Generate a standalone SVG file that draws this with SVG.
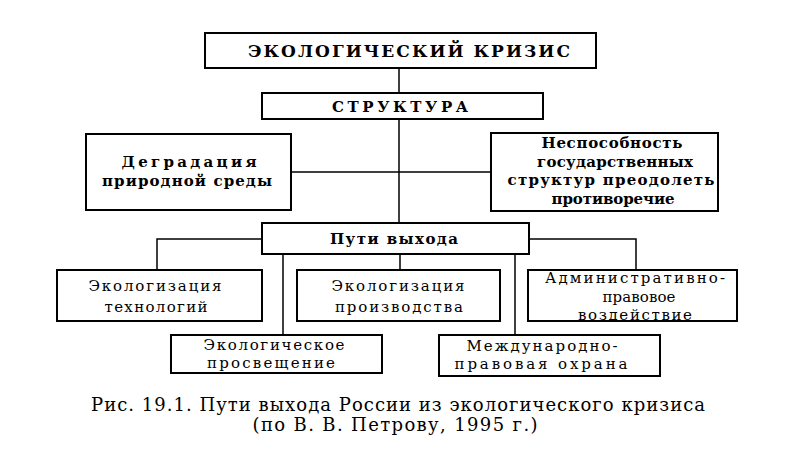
<svg xmlns="http://www.w3.org/2000/svg" width="800" height="450" viewBox="0 0 800 450">
<style>
.box{fill:#fff;stroke:#000;stroke-width:2}
.ln{fill:none;stroke:#000;stroke-width:1.5}
text{font-family:"DejaVu Serif","Liberation Serif",serif;fill:#000;text-anchor:middle}
.b{font-weight:bold;font-size:15px}
.r{font-size:15px}
.cap{font-size:18px}
</style>
<rect width="800" height="450" fill="#fff"/>
<g id="connectors">
<path class="ln" d="M399 68V93M399 119V223M291 172H491"/>
<path class="ln" d="M262 239H157V270M529 239H636V270M283 254V335M400 254V270M515 254V335"/>
</g>
<g id="crisis"><rect class="box" x="205" y="33" width="391" height="35"/><text x="409" y="57" font-weight="bold" font-size="17" textLength="322" lengthAdjust="spacing">ЭКОЛОГИЧЕСКИЙ КРИЗИС</text></g>
<g id="structure"><rect class="box" x="262" y="93" width="281" height="26"/><text class="b" x="400" y="112" textLength="136" lengthAdjust="spacing">СТРУКТУРА</text></g>
<g id="degradation"><rect class="box" x="86" y="134" width="205" height="76"/><text class="b" x="189" y="167" textLength="135" lengthAdjust="spacing">Деградация</text><text class="b" x="187" y="186" textLength="170" lengthAdjust="spacing">природной среды</text></g>
<g id="inability"><rect class="box" x="491" y="133" width="227" height="78"/><text class="b" x="612" y="148" textLength="141" lengthAdjust="spacing">Неспособность</text><text class="b" x="615" y="167" textLength="156" lengthAdjust="spacing">государственных</text><text class="b" x="611" y="185" textLength="207" lengthAdjust="spacing">структур преодолеть</text><text class="b" x="613" y="204" textLength="123" lengthAdjust="spacing">противоречие</text></g>
<g id="ways"><rect class="box" x="262" y="223" width="267" height="31"/><text class="b" x="394" y="244" textLength="128" lengthAdjust="spacing">Пути выхода</text></g>
<g id="tech"><rect class="box" x="57" y="270" width="205" height="51"/><text class="r" x="155" y="291" textLength="133" lengthAdjust="spacing">Экологизация</text><text class="r" x="156" y="312" textLength="103" lengthAdjust="spacing">технологий</text></g>
<g id="prod"><rect class="box" x="297" y="270" width="203" height="51"/><text class="r" x="398" y="291" textLength="133" lengthAdjust="spacing">Экологизация</text><text class="r" x="399" y="312" textLength="128" lengthAdjust="spacing">производства</text></g>
<g id="admin"><rect class="box" x="528" y="270" width="209" height="51"/><text class="r" x="635" y="283" textLength="180" lengthAdjust="spacing">Административно-</text><text class="r" x="639" y="302" textLength="73" lengthAdjust="spacing">правовое</text><text class="r" x="635" y="320" textLength="114" lengthAdjust="spacing">воздействие</text></g>
<g id="education"><rect class="box" x="171" y="335" width="211" height="38"/><text class="r" x="274" y="350" textLength="141" lengthAdjust="spacing">Экологическое</text><text class="r" x="271" y="368" textLength="128" lengthAdjust="spacing">просвещение</text></g>
<g id="intl"><rect class="box" x="439" y="335" width="221" height="41"/><text class="r" x="542" y="351" textLength="151" lengthAdjust="spacing">Международно-</text><text class="r" x="541" y="369" textLength="173" lengthAdjust="spacing">правовая охрана</text></g>
<g id="caption"><text class="cap" x="398" y="411" textLength="614" lengthAdjust="spacing">Рис. 19.1. Пути выхода России из экологического кризиса</text><text class="cap" x="395" y="431" textLength="285" lengthAdjust="spacing">(по В. В. Петрову, 1995 г.)</text></g>
</svg>
